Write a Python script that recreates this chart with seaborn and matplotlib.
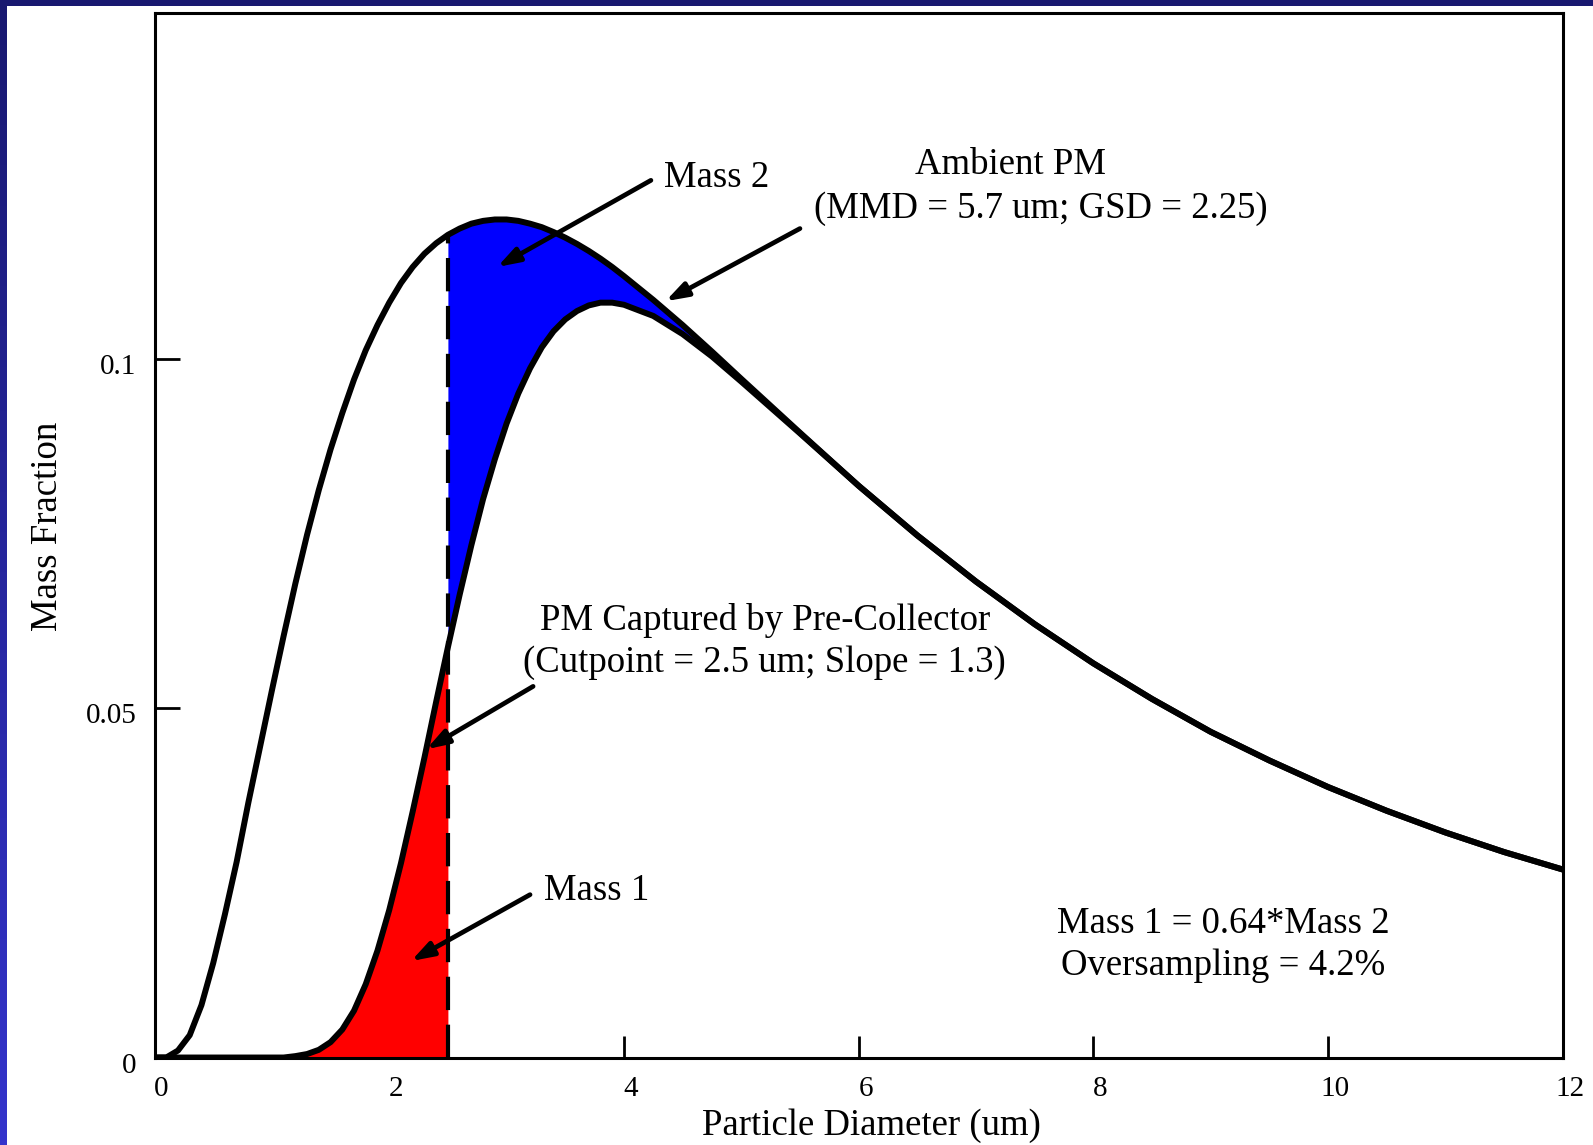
import numpy as np
import pandas as pd
import matplotlib
matplotlib.use("Agg")
import matplotlib.pyplot as plt
import seaborn as sns
from matplotlib.colors import LinearSegmentedColormap
from matplotlib.patches import Rectangle
from matplotlib.transforms import ScaledTranslation

# values
diameter = [0, 0.1, 0.2, 0.3, 0.4, 0.5, 0.6, 0.7, 0.8, 0.9,
            1.0, 1.1, 1.2, 1.3, 1.4, 1.5, 1.6, 1.7, 1.8, 1.9,
            2.0, 2.1, 2.2, 2.3, 2.4, 2.5, 2.6, 2.7, 2.8, 2.9,
            3.0, 3.1, 3.2, 3.3, 3.4, 3.5, 3.6, 3.7, 3.8, 3.9,
            4.0, 4.25, 4.5, 4.75, 5.0, 5.5, 6.0, 6.5, 7.0, 7.5,
            8.0, 8.5, 9.0, 9.5, 10.0, 10.5, 11.0, 11.5, 12.0]
ambient = [0, 0, 0.0010, 0.0032, 0.0075, 0.0135, 0.0205, 0.0280, 0.0365, 0.0445,
           0.0525, 0.0603, 0.0678, 0.0748, 0.0812, 0.0870, 0.0922, 0.0970, 0.1012, 0.1048,
           0.1080, 0.1108, 0.1131, 0.1150, 0.1165, 0.1177, 0.1186, 0.1193, 0.1197, 0.1199,
           0.1199, 0.1197, 0.1193, 0.1188, 0.1181, 0.1173, 0.1164, 0.1154, 0.1143, 0.1131,
           0.1118, 0.1084, 0.1048, 0.1010, 0.0971, 0.0894, 0.0818, 0.0747, 0.0681, 0.0620,
           0.0564, 0.0513, 0.0466, 0.0425, 0.0387, 0.0353, 0.0322, 0.0294, 0.0269]
captured = [0, 0, 0, 0, 0, 0, 0, 0, 0, 0,
            0, 0, 0.0002, 0.0005, 0.0011, 0.0022, 0.0040, 0.0067, 0.0105, 0.0153,
            0.0211, 0.0278, 0.0352, 0.0429, 0.0509, 0.0587, 0.0662, 0.0733, 0.0799, 0.0856,
            0.0907, 0.0950, 0.0986, 0.1016, 0.1039, 0.1056, 0.1068, 0.1076, 0.1080, 0.1080,
            0.1077, 0.1061, 0.1035, 0.1003, 0.0967, 0.0893, 0.0818, 0.0747, 0.0681, 0.0620,
            0.0564, 0.0513, 0.0466, 0.0425, 0.0387, 0.0353, 0.0322, 0.0294, 0.0269]
CUTPOINT = 2.5
x_ticks = [0, 2, 4, 6, 8, 10, 12]
y_ticks = [0, 0.05, 0.1]
y_tick_labels = ["0", "0.05", "0.1"]

df = pd.DataFrame({"diameter": diameter, "ambient": ambient, "captured": captured})

sns.set_theme(style="white")
plt.rcParams.update({
    "font.family": ["Liberation Serif", "DejaVu Serif"],
    "axes.edgecolor": "black",
    "axes.linewidth": 2.2,
    "text.color": "black",
    "xtick.color": "black",
    "ytick.color": "black",
})

fig = plt.figure(figsize=(15.93, 11.45), dpi=100)
fig.patch.set_facecolor("white")

# blue frame strips of the slide
bar = fig.add_axes([0, 0, 7 / 1593, 1])
grad = np.linspace(0, 1, 256).reshape(-1, 1)
bar.imshow(grad, aspect="auto",
           cmap=LinearSegmentedColormap.from_list("slide", ["#181870", "#3434cc"]))
bar.axis("off")
fig.add_artist(Rectangle((0, 1 - 6 / 1145), 1, 6 / 1145, transform=fig.transFigure,
                         color="#181870", lw=0))

ax = fig.add_axes([0.097, 0.0764, 0.884, 0.912])
ax.set_facecolor("white")

ax.fill_between(df["diameter"], 0, df["captured"], where=df["diameter"] <= CUTPOINT,
                color="#ff0000", lw=0, zorder=1)
ax.fill_between(df["diameter"], df["captured"], df["ambient"], where=df["diameter"] >= CUTPOINT,
                color="#0000ff", lw=0, zorder=1)

cut_top = df.loc[df["diameter"] == CUTPOINT, "ambient"].iloc[0]
ax.plot([CUTPOINT, CUTPOINT], [0, cut_top], color="black", lw=3,
        dashes=(8, 3.5), zorder=3)

sns.lineplot(data=df, x="diameter", y="ambient", color="black", lw=4.3,
             sort=False, ax=ax, zorder=4)
sns.lineplot(data=df, x="diameter", y="captured", color="black", lw=4.3,
             sort=False, ax=ax, zorder=4)

ax.set_xlim(0, 12)
ax.set_ylim(0, 0.1494)
ax.set_xticks(x_ticks)
ax.set_xticklabels([str(t) for t in x_ticks])
ax.set_yticks(y_ticks)
ax.set_yticklabels(y_tick_labels)
ax.set_axisbelow(True)
ax.tick_params(axis="x", direction="in", length=16, width=2, labelsize=21, pad=13,
               bottom=True, top=False)
ax.tick_params(axis="y", direction="in", length=18, width=2, labelsize=21, pad=13,
               left=True, right=False)
ax.set_xlabel("")
ax.set_ylabel("")
for t in ax.xaxis.get_major_ticks():
    t.label1.set_transform(t.label1.get_transform()
                           + ScaledTranslation(0.07, 0, fig.dpi_scale_trans))
for t in ax.yaxis.get_major_ticks():
    t.label1.set_transform(t.label1.get_transform()
                           + ScaledTranslation(0, -0.05, fig.dpi_scale_trans))
for s in ax.spines.values():
    s.set_color("black")
    s.set_linewidth(2.2)

FS = 26.5
arrow = dict(arrowstyle="-|>,head_length=0.6,head_width=0.2", color="black",
             lw=3.4, mutation_scale=22, shrinkA=0, shrinkB=0)

ax.text(4.345, 0.1258, "Mass 2", fontsize=FS, ha="left", va="center", zorder=6)
ax.annotate("", xy=(2.92, 0.1131), xytext=(4.23, 0.1255), arrowprops=arrow, zorder=5)

ax.text(7.29, 0.1278, "Ambient PM", fontsize=FS, ha="center", va="center", zorder=6)
ax.text(7.55, 0.1215, "(MMD = 5.7 um; GSD = 2.25)", fontsize=FS, ha="center", va="center",
        zorder=6)
ax.annotate("", xy=(4.354, 0.1082), xytext=(5.50, 0.1186), arrowprops=arrow, zorder=5)

ax.text(5.2, 0.0595, "PM Captured by Pre-Collector\n(Cutpoint = 2.5 um; Slope = 1.3)",
        fontsize=FS, ha="center", va="center", multialignment="center", linespacing=1.3,
        zorder=6)
ax.annotate("", xy=(2.316, 0.0441), xytext=(3.226, 0.0531), arrowprops=arrow, zorder=5)

ax.text(3.32, 0.0238, "Mass 1", fontsize=FS, ha="left", va="center", zorder=6)
ax.annotate("", xy=(2.186, 0.0138), xytext=(3.20, 0.0233), arrowprops=arrow, zorder=5)

ax.text(9.11, 0.0161, "Mass 1 = 0.64*Mass 2\nOversampling = 4.2%", fontsize=FS,
        ha="center", va="center", multialignment="center", linespacing=1.3, zorder=6)

fig.text(0.5468, 0.017, "Particle Diameter (um)", fontsize=FS, ha="center", va="center")
fig.text(0.030, 0.540, "Mass Fraction", fontsize=FS, rotation=90, ha="center", va="center")

fig.savefig("out.png", dpi=100)
